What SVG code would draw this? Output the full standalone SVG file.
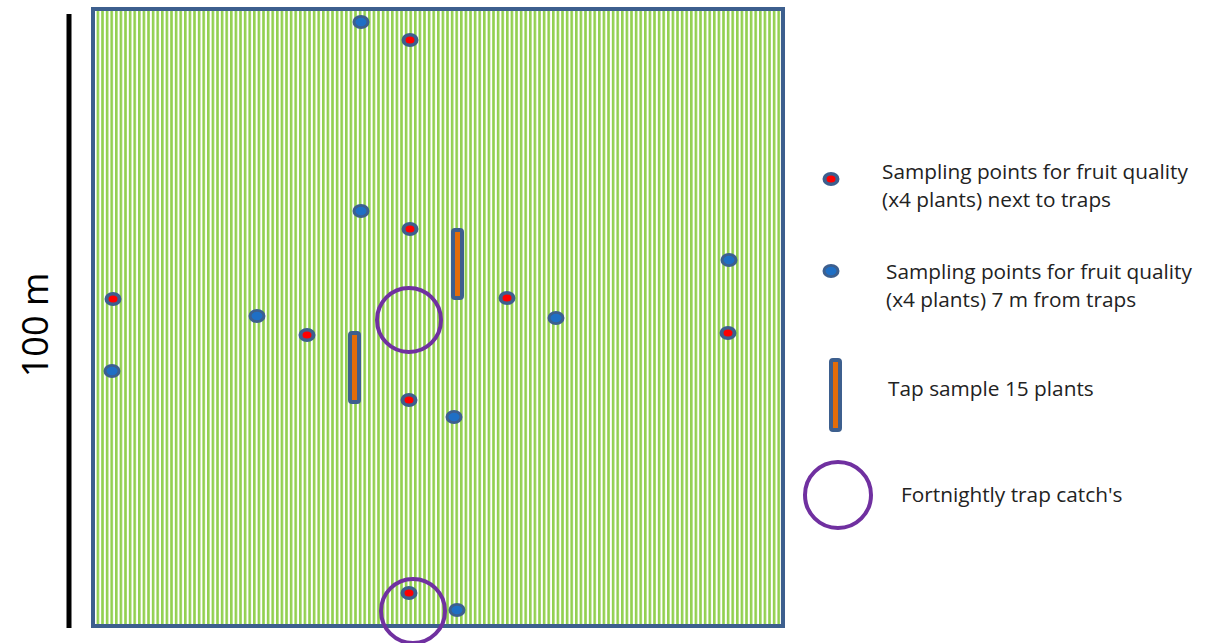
<svg xmlns="http://www.w3.org/2000/svg" width="1214" height="643" viewBox="0 0 1214 643">
<style>
.t{font-family:"Open Sans","Liberation Sans",sans-serif;font-size:20.8px;fill:#222}
.trap{fill:none;stroke:#7030a0;stroke-width:4}
.bar{fill:#e36c09;stroke:#3d5f8e;stroke-width:4}
</style>
<defs>
<pattern id="stripes" x="0" y="0" width="4.6" height="10" patternUnits="userSpaceOnUse">
<rect x="0" y="0" width="4.6" height="10" fill="#ffffff"/>
<rect x="0" y="0" width="2.6" height="10" fill="#92d050"/>
</pattern>
<g id="redpt"><ellipse rx="8.5" ry="7" fill="#3d5f8e"/><ellipse rx="4.5" ry="3.5" fill="#ff0000"/></g>
<g id="bluept"><ellipse rx="8.5" ry="7" fill="#3d5f8e"/><ellipse rx="5.5" ry="4.2" fill="#1f6fc5"/></g>
</defs>
<rect width="1214" height="643" fill="#ffffff"/>
<g id="scale">
<line x1="69" y1="14" x2="69" y2="628" stroke="#000" stroke-width="5"/>
<text x="0" y="0" transform="translate(48,325) rotate(-90)" text-anchor="middle" style="font-family:'Open Sans','Liberation Sans',sans-serif;font-size:36px;fill:#000">100 m</text>
</g>
<g id="field">
<rect x="93" y="9" width="690" height="617" fill="url(#stripes)" stroke="#3d5f8e" stroke-width="4"/>
</g>
<g id="points-red">
<use href="#redpt" x="410" y="40"/>
<use href="#redpt" x="410" y="229"/>
<use href="#redpt" x="113" y="299"/>
<use href="#redpt" x="307" y="335"/>
<use href="#redpt" x="507" y="298"/>
<use href="#redpt" x="728" y="333"/>
<use href="#redpt" x="409" y="400"/>
<use href="#redpt" x="409" y="593"/>
</g>
<g id="points-blue">
<use href="#bluept" x="361" y="22"/>
<use href="#bluept" x="361" y="211"/>
<use href="#bluept" x="112" y="371"/>
<use href="#bluept" x="257" y="316"/>
<use href="#bluept" x="556" y="318"/>
<use href="#bluept" x="729" y="260"/>
<use href="#bluept" x="454" y="417"/>
<use href="#bluept" x="457" y="610"/>
</g>
<g id="tap-samples">
<rect class="bar" x="453" y="230" width="9" height="68" rx="2"/>
<rect class="bar" x="350" y="333" width="9" height="69" rx="2"/>
</g>
<g id="traps">
<circle class="trap" cx="409" cy="320" r="32"/>
<circle class="trap" cx="413" cy="611" r="32"/>
</g>
<g id="legend">
<g id="legend-red"><use href="#redpt" x="831" y="179"/>
<text class="t" x="882" y="179">Sampling points for fruit quality</text>
<text class="t" x="882" y="207">(x4 plants) next to traps</text></g>
<g id="legend-blue"><use href="#bluept" x="831" y="271"/>
<text class="t" x="886" y="279">Sampling points for fruit quality</text>
<text class="t" x="886" y="307">(x4 plants) 7 m from traps</text></g>
<g id="legend-bar"><rect class="bar" x="831" y="360" width="9" height="70" rx="2"/>
<text class="t" x="888" y="396">Tap sample 15 plants</text></g>
<g id="legend-trap"><circle class="trap" cx="838" cy="495" r="33"/>
<text class="t" x="901" y="502">Fortnightly trap catch's</text></g>
</g>
</svg>
